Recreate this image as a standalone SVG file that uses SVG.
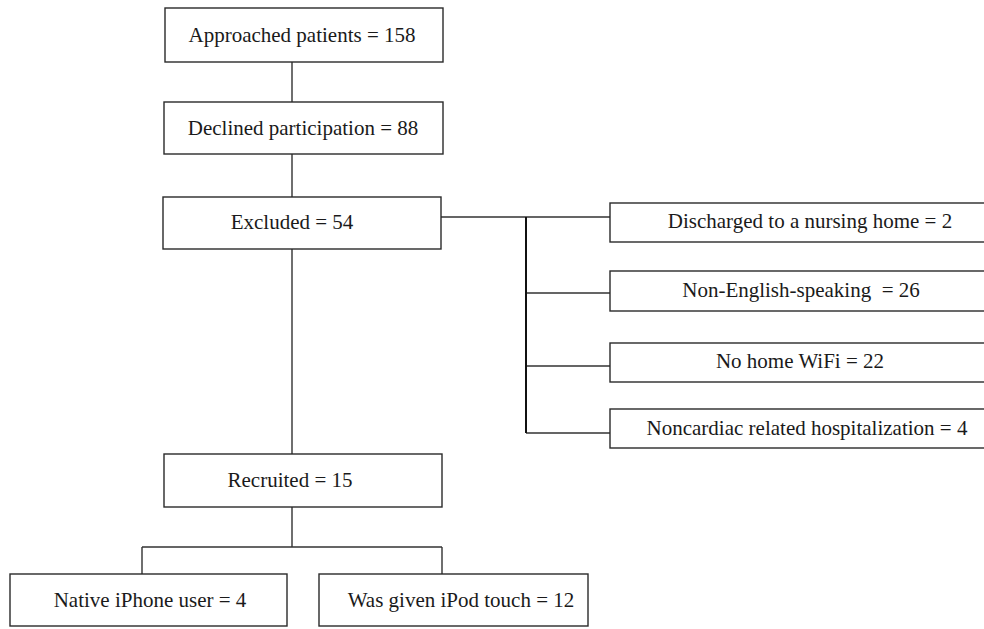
<svg xmlns="http://www.w3.org/2000/svg" width="984" height="629" viewBox="0 0 984 629">
<style>
.box{fill:#fff;stroke:#2a2a2a;stroke-width:1.4}
.lbl{font-family:"Liberation Serif","Times New Roman",serif;font-size:21px;fill:#1a1a1a;text-anchor:middle}
.con{fill:none;stroke:#333;stroke-width:1.4}
</style>
<rect width="984" height="629" fill="#fff"/>
<g id="connectors">
<path class="con" d="M292 62V102M292 154V197M292 249V454M292 507V547M142 547H442M142 547V574M442 547V574"/>
<path class="con" d="M441 217H526M526 217H610M526 293H610M526 366H610M526 433H610"/>
<path class="con" style="stroke:#111;stroke-width:2" d="M526 217V433"/>
</g>
<g id="approached"><rect class="box" x="165" y="8" width="278" height="54"/><text class="lbl" x="302" y="42">Approached patients = 158</text></g>
<g id="declined"><rect class="box" x="164" y="102" width="279" height="52"/><text class="lbl" x="303" y="135">Declined participation = 88</text></g>
<g id="excluded"><rect class="box" x="163" y="197" width="278" height="52"/><text class="lbl" x="292" y="229">Excluded = 54</text></g>
<g id="nursing"><rect class="box" x="610" y="203" width="380" height="39"/><text class="lbl" x="810" y="228">Discharged to a nursing home = 2</text></g>
<g id="nonenglish"><rect class="box" x="610" y="271" width="380" height="40"/><text class="lbl" x="801" y="297">Non-English-speaking&#160; = 26</text></g>
<g id="wifi"><rect class="box" x="610" y="343" width="380" height="39"/><text class="lbl" x="800" y="368">No home WiFi = 22</text></g>
<g id="noncardiac"><rect class="box" x="610" y="409" width="380" height="39"/><text class="lbl" x="807" y="435">Noncardiac related hospitalization = 4</text></g>
<g id="recruited"><rect class="box" x="164" y="454" width="278" height="53"/><text class="lbl" x="290" y="487">Recruited = 15</text></g>
<g id="iphone"><rect class="box" x="10" y="574" width="277" height="52"/><text class="lbl" x="150" y="607">Native iPhone user = 4</text></g>
<g id="ipod"><rect class="box" x="319" y="574" width="269" height="52"/><text class="lbl" x="461" y="607">Was given iPod touch = 12</text></g>
</svg>
